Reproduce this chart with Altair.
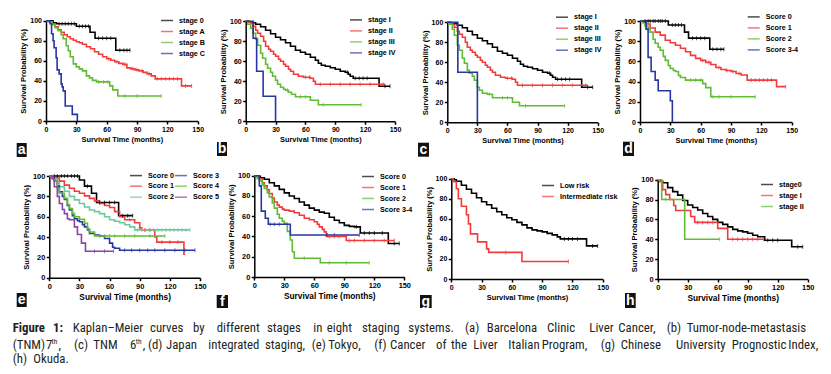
import altair as alt
import pandas as pd

# ---------------- colours ----------------
BLACK, RED, GREEN, BLUE, TEAL, PURPLE = "#000000", "#f23b3b", "#62bb34", "#26389f", "#6cc9a0", "#8b43a8"

# ---------------- (a) BCLC ----------------
A_NAMES = ["stage 0", "stage A", "stage B", "stage C"]
A0_T = [0, 7, 10.5, 30, 43.5, 48.5, 69, 83]
A0_S = [100, 98, 97, 94.5, 88.5, 82.5, 70.5, 70.5]
A0_C = [13, 16, 19, 22, 25, 28, 33, 36, 39, 42, 52, 56, 60, 64, 73, 77, 80, 83]
AA_T = [0, 3, 6, 9, 12, 15, 18, 21, 24, 27, 30, 33, 36, 40, 44, 48, 52, 56, 60, 64, 68, 72, 76, 80, 84, 88, 92, 96, 100, 104, 108, 134, 144]
AA_S = [100, 99, 97, 94, 91, 88.5, 86, 84, 82, 80.5, 79, 78, 76.5, 74, 72, 69, 66.5, 64, 62, 60.5, 59, 57.5, 56.5, 53, 52, 51, 50, 48.5, 47, 45, 42, 35, 35]
AA_C = [62, 70, 78, 86, 90, 95, 102, 110, 114, 118, 122, 126, 130, 138, 144]
AB_T = [0, 3, 6, 9, 12, 15, 17, 20, 22, 24, 27, 30, 33, 36, 40, 43, 46, 50, 63, 66, 71, 114]
AB_S = [100, 99, 96, 93, 90, 86, 82, 75, 70, 64, 57, 54, 52, 50, 45, 43, 40.5, 39, 35, 31, 25, 25]
AB_C = [52, 57, 61, 78, 90, 114]
AC_T = [0, 4, 5.5, 7, 8, 10, 11, 13, 15, 16, 17, 19, 26, 31]
AC_S = [100, 97, 87, 80, 73, 63, 51, 47, 37, 34, 30, 15, 6.6, 0]
AC_C = []

# ---------------- (b) TNM 7th ----------------
B_NAMES = ["stage I", "stage II", "stage III", "stage IV"]
B1_T = [0, 3, 6, 10, 15, 20, 25, 30, 35, 40, 45, 50, 55, 60, 65, 70, 73, 76, 80, 85, 90, 95, 100, 103, 105, 108, 134, 145]
B1_S = [100, 99.5, 98.5, 97, 94.5, 91, 87.5, 84, 81.5, 78.5, 75, 71, 69, 67, 64, 61, 58, 56, 55, 53.5, 52, 50, 49, 47, 45, 43, 35, 35]
B1_C = [102, 110, 114, 118, 122, 140, 145]
B2_T = [0, 3, 5, 7, 10, 12, 15, 18, 20, 23, 25, 28, 30, 33, 35, 38, 40, 43, 45, 48, 53, 58, 65, 68, 70, 140]
B2_S = [100, 99, 98, 95, 91, 88, 85, 80, 75, 72, 70, 67, 65, 62, 60, 57, 55, 52, 50, 47, 45, 44, 43, 40, 37, 37]
B2_C = [60, 64, 75, 85, 95, 105, 115, 125, 138]
B3_T = [0, 2, 5, 7, 10, 12, 15, 17, 20, 22, 25, 27, 30, 32, 35, 38, 40, 43, 46, 50, 65, 73, 116]
B3_S = [100, 97, 93, 88, 82, 76, 68, 63, 57, 53, 49, 45, 41, 37, 34, 32, 31, 29, 27, 24.5, 21, 16.5, 16.5]
B3_C = [42, 55, 60, 78, 116]
B4_T = [0, 7.5, 11, 17.5, 30]
B4_S = [100, 83, 50, 25, 0]
B4_C = []

# ---------------- (c) TNM 6th ----------------
C_NAMES = ["stage I", "stage II", "stage III", "stage IV"]
C1_T, C1_S, C1_C = B1_T, B1_S, B1_C
C2_T, C2_S, C2_C = B2_T, B2_S, B2_C
C3_T = [0, 2, 5, 7, 10, 12, 15, 17, 20, 22, 25, 27, 30, 32, 35, 40, 45, 65, 72, 117]
C3_S = [100, 98, 93, 87, 77, 72, 64, 59, 52, 49, 46, 42, 35, 32, 29, 28, 24.5, 20, 16.5, 16.5]
C3_C = [42, 55, 60, 78, 117]
C4_T = [0, 10.5, 30]
C4_S = [100, 50, 0]
C4_C = []

# ---------------- (d) JIS ----------------
D_NAMES = ["Score 0", "Score 1", "Score 2", "Score 3-4"]
D0_T = [0, 28, 44, 48, 69, 83]
D0_S = [100, 96, 89, 83, 72, 72]
D0_C = [5, 8, 10, 13, 15, 18, 20, 22, 25, 32, 35, 38, 41, 52, 56, 60, 64, 72, 76, 80, 83]
D1_T = [0, 3, 6, 10, 15, 20, 25, 30, 35, 40, 45, 50, 55, 60, 65, 70, 75, 80, 85, 90, 95, 100, 106, 135, 144]
D1_S = [100, 99, 97, 93, 89, 86, 81, 78.5, 76, 73, 69.5, 66, 63, 61, 59, 57, 54, 52, 51, 50, 48, 46.5, 41.5, 35, 35]
D1_C = [62, 68, 78, 86, 92, 98, 110, 114, 118, 122, 126, 130, 144]
D2_T = [0, 3, 5, 8, 10, 13, 15, 18, 20, 23, 25, 28, 30, 33, 35, 38, 40, 45, 62, 65, 70, 114]
D2_S = [100, 98, 95, 92, 89, 82, 78, 74, 71, 65, 61, 56, 53, 51, 50, 46, 44, 41.5, 38, 34, 25, 25]
D2_C = [50, 55, 60, 72, 78, 90, 114]
D3_T = [0, 6, 8, 11, 15, 18, 30, 32]
D3_S = [100, 92, 64, 50, 41.5, 31, 21, 0]
D3_C = []

# ---------------- (e) Tokyo ----------------
E_NAMES = ["Score 0", "Score 1", "Score 2", "Score 3", "Score 4", "Score 5"]
E0_T = [0, 30, 35, 42, 47, 69, 83]
E0_S = [100, 96, 90, 83, 74, 61, 61]
E0_C = [5, 8, 12, 15, 18, 22, 25, 28, 38, 50, 55, 60, 65, 73, 78, 83]
E1_T = [0, 5, 10, 15, 20, 25, 30, 35, 40, 45, 50, 55, 60, 65, 70, 75, 85, 90, 92, 105, 107, 134, 135]
E1_S = [100, 98, 95, 91, 88, 85, 83, 80.5, 78, 75.5, 73, 71, 69, 65, 60, 57, 54, 49, 47, 40, 35, 23, 23]
E1_C = [80, 95, 100, 112, 120, 128]
E2_T = [0, 3, 5, 8, 10, 15, 20, 25, 30, 35, 40, 45, 50, 55, 60, 65, 70, 75, 80, 85, 140]
E2_S = [100, 98, 97, 93, 89.5, 85, 80, 76.5, 73, 69.5, 66.5, 65, 63, 60, 57, 55.5, 54, 52, 50, 47, 47]
E2_C = [88, 92, 96, 100, 104, 108, 112, 116, 120, 124, 128, 132, 136, 140]
E3_T = [0, 3, 5, 8, 10, 13, 15, 18, 20, 23, 25, 28, 30, 33, 35, 38, 40, 45, 50, 55, 60, 63, 65, 70, 145]
E3_S = [100, 98, 95, 90, 84.5, 80, 77, 71, 66.5, 61, 58, 56, 55, 52, 50, 47, 43.5, 42, 41, 38.5, 34, 30, 29, 27, 27]
E3_C = [75, 82, 90, 98, 105, 115, 125, 135, 145]
E4_T = [0, 3, 5, 8, 10, 15, 18, 20, 23, 25, 30, 35, 38, 40, 45, 115]
E4_S = [100, 98, 95, 88, 83, 78, 72, 68, 63, 60, 57.5, 53.5, 48, 45, 41, 41]
E4_C = [50, 55, 60, 65, 75, 85, 100, 115]
E5_T = [0, 3, 5, 8, 10, 13, 15, 18, 20, 25, 28, 32, 36, 64]
E5_S = [100, 97, 89.5, 80, 73, 67, 63, 58, 57, 50, 42.5, 34, 26, 26]
E5_C = [45, 55, 64]

# ---------------- (f) CLIP ----------------
F_NAMES = ["Score 0", "Score 1", "Score 2", "Score 3-4"]
F0_T = [0, 3, 6, 10, 15, 20, 25, 30, 35, 40, 45, 50, 55, 60, 65, 70, 75, 80, 85, 90, 95, 100, 106, 134, 145]
F0_S = [100, 99.5, 98, 96.5, 93, 90, 86.5, 83, 80, 77.5, 74, 71, 68, 66, 64, 63, 59, 56, 53.5, 51, 50, 49.5, 43.5, 33, 33]
F0_C = [102, 110, 115, 120, 128, 140, 145]
F1_T = [0, 3, 5, 8, 10, 13, 15, 18, 20, 23, 25, 28, 30, 35, 40, 45, 50, 55, 60, 63, 65, 68, 70, 72, 92, 140]
F1_S = [100, 98.5, 97, 93, 90, 86, 82.5, 78, 74, 71, 69, 67, 66, 65, 63.5, 61, 58, 56.5, 54.5, 52, 49.5, 47, 44.5, 40, 36, 36]
F1_C = [75, 80, 85, 95, 100, 110, 120, 130, 140]
F2_T = [0, 3, 5, 8, 10, 13, 15, 18, 20, 23, 25, 28, 30, 33, 36, 38, 40, 66, 115]
F2_S = [100, 97, 95, 91, 87.5, 83, 79, 73, 68, 62, 58, 55, 53, 45, 36.5, 25, 18.5, 14, 14]
F2_C = [50, 75, 92, 115]
F3_T = [0, 5, 7, 11, 14, 36, 105]
F3_S = [100, 90, 65, 58, 52, 41.5, 41.5]
F3_C = [16, 20, 25, 73, 80, 105]

# ---------------- (g) CUPI ----------------
G_NAMES = ["Low risk", "Intermediate risk"]
G0_T = [0, 3, 5, 10, 15, 20, 25, 30, 35, 40, 45, 50, 55, 60, 65, 70, 75, 80, 85, 90, 95, 100, 105, 108, 134, 145]
G0_S = [100, 99, 97.5, 93.5, 89.5, 85.5, 81, 77, 74, 70.5, 67, 64, 61, 59, 56.5, 54, 51, 49, 48, 47, 45.5, 44, 42, 40, 33, 33]
G0_C = [112, 116, 120, 125, 140, 145]
G1_T = [0, 2, 5, 7, 10, 15, 17, 19, 26, 35, 37, 70, 116]
G1_S = [100, 97, 90, 80, 72.5, 64, 55, 45, 37, 30, 26.5, 17.5, 17.5]
G1_C = [54, 116]

# ---------------- (h) Okuda ----------------
H_NAMES = ["stage0", "stage I", "stage II"]
H0_T = [0, 3, 5, 10, 15, 20, 25, 30, 35, 40, 45, 50, 55, 60, 65, 70, 75, 80, 85, 90, 95, 100, 107, 134, 145]
H0_S = [100, 98.5, 97, 92, 88, 84.5, 79, 74.5, 72, 69.5, 66, 63, 60, 57, 55, 52.5, 50, 48.5, 47.5, 46, 44, 42.5, 39, 32.5, 32.5]
H0_C = [110, 115, 120, 140, 145]
H1_T = [0, 2, 5, 8, 12, 16, 18, 33, 37, 60, 70, 106]
H1_S = [100, 98, 90, 85, 80, 74, 69, 63, 57, 51, 40, 40]
H1_C = [40, 45, 50, 55, 75, 80, 85, 90, 95, 100, 106]
H2_T = [0, 4, 27, 62]
H2_S = [100, 80, 40, 40]
H2_C = [8, 62]

X_TICKS = [0, 30, 60, 90, 120, 150]
Y_TICKS = [0, 20, 40, 60, 80, 100]
X_TITLE = "Survival Time (months)"
Y_TITLE = "Survival Probability (%)"
LETTERS = ["a", "b", "c", "d", "e", "f", "g", "h"]

# caption text
CAP1_BOLD = ["Figure", "1:"]
CAP1 = ["Kaplan\u2013Meier", "curves", "by", "different", "stages", "in", "eight", "staging", "systems.",
        "(a)", "Barcelona", "Clinic", "Liver", "Cancer,", "(b)", "Tumor-node-metastasis"]
CAP2 = ["(TNM)", "7", ",", "(c)", "TNM", "6", ",", "(d)", "Japan", "integrated", "staging,", "(e)", "Tokyo,",
        "(f)", "Cancer", "of", "the", "Liver", "Italian", "Program,", "(g)", "Chinese", "University",
        "Prognostic", "Index,"]
CAP2_SUP = ["th", "th"]
CAP3 = ["(h)", "Okuda."]

# ---------------- layout (pixels, view coordinates) ----------------
W, H = 815, 358
GEOM = {  # left, right, top, bottom of each plot area
    "a": (38, 189.7, 12.7, 113), "b": (237.7, 387, 13.3, 113.3),
    "c": (439.3, 589.7, 14.3, 114.3), "d": (632, 783.7, 13, 114),
    "e": (41.3, 192, 168, 269.7), "f": (246.3, 396.3, 167.7, 269),
    "g": (443.3, 594.7, 170.7, 271), "h": (649.7, 799.7, 171.7, 271),
}
LEGPOS = {"a": (152, 5.5), "b": (341, 4.9), "c": (547, 2.2), "d": (738.7, 1.9),
          "e": (121, 160.2), "f": (353, 161.5), "g": (533, 170.5), "h": (752, 169.5)}
BOX = {"a": (8.7, 18.7, 135, 149), "b": (209, 219, 134, 148), "c": (410, 421, 134.7, 148.7),
       "d": (615, 626, 133.7, 148), "e": (8.7, 18.7, 285, 299), "f": (208.7, 220, 287, 300),
       "g": (412, 423.7, 287, 300), "h": (617, 627.7, 285, 300)}
CAP1_BOLD_X = [4.7, 45]
CAP1_X = [64.7, 142, 185, 208.7, 259, 305.3, 318.7, 354, 400.3, 457, 478.7, 539, 581.3, 610.3, 658.7, 678.7]
CAP2_X = [4.7, 38, 50.5, 66, 85.3, 122, 134.7, 140, 158, 200.3, 257, 303.7, 320.3, 366.3, 382,
          428, 443, 465.3, 500.3, 533.7, 592.7, 612.7, 668, 723.7, 780.3]
CAP2_SUP_X = [43.5, 127.7]
CAP3_X = [4.7, 25.3]
CAP_Y = [324, 341.3, 355.3]

FONT = "Liberation Sans"
CAPFONT = "Roboto Condensed, Liberation Sans Narrow, Liberation Sans"


def surv_at(ts, ss, t):
    v = ss[0]
    for ti, si in zip(ts, ss):
        if ti <= t:
            v = si
    return v


def panel(key, names, colors, series, big=False, columns=None):
    rows, cens = [], []
    for name, (ts, ss, cs) in zip(names, series):
        for ti, si in zip(ts, ss):
            rows.append({"g": name, "t": ti, "s": si})
        for c in cs:
            cens.append({"g": name, "t": c, "s": surv_at(ts, ss, c)})
    L, R, T, B = GEOM[key]
    lx, ly = LEGPOS[key]
    lab = 7.4 if big else 7.0
    xt = 8.3 if big else 7.4
    xs = alt.Scale(domain=[0, 150], range=[L, R], nice=False, zero=False)
    ys = alt.Scale(domain=[0, 100], range=[B, T], nice=False, zero=False)
    common = dict(domainColor="black", domainWidth=1.5, tickColor="black", tickWidth=1.5, tickSize=3,
                  labelColor="black", labelFont=FONT, labelFontWeight="bold", labelFontSize=lab,
                  titleFont=FONT, titleFontWeight="bold", titleColor="black", grid=False,
                  labelPadding=1.5, minExtent=0, maxExtent=200, labelOverlap=False)
    xax = alt.Axis(orient="bottom", offset=B - H, values=X_TICKS, title=X_TITLE, titleFontSize=xt,
                   titlePadding=3, labelFlush=False, **common)
    yax = alt.Axis(orient="left", offset=-L, values=Y_TICKS, title=Y_TITLE, titleFontSize=7.6,
                   titlePadding=2, **common)
    legkw = dict(orient="none", legendX=lx, legendY=ly, title=None, symbolType="stroke", symbolSize=144,
                 symbolStrokeWidth=1.5, labelFont=FONT, labelFontSize=7.2, labelFontWeight="bold",
                 labelColor="black", rowPadding=0, padding=0, labelOffset=5)
    if columns:
        legkw.update(columns=columns, columnPadding=-6)
    leg = alt.Legend(**legkw)
    col = alt.Color("g:N", scale=alt.Scale(domain=names, range=colors), legend=leg)
    lines = alt.Chart(pd.DataFrame(rows)).mark_line(interpolate="step-after", strokeWidth=1.6).encode(
        x=alt.X("t:Q", scale=xs, axis=xax), y=alt.Y("s:Q", scale=ys, axis=yax), color=col,
        order=alt.Order("t:Q"))
    layers = [lines]
    if cens:
        ticks = alt.Chart(pd.DataFrame(cens)).mark_tick(orient="vertical", size=4, thickness=1).encode(
            x=alt.X("t:Q", scale=xs, axis=xax), y=alt.Y("s:Q", scale=ys, axis=yax), color=col)
        layers.append(ticks)
    return alt.layer(*layers)


C4 = [BLACK, RED, GREEN, BLUE]
panels = [
    panel("a", A_NAMES, C4, [(A0_T, A0_S, A0_C), (AA_T, AA_S, AA_C), (AB_T, AB_S, AB_C), (AC_T, AC_S, AC_C)]),
    panel("b", B_NAMES, C4, [(B1_T, B1_S, B1_C), (B2_T, B2_S, B2_C), (B3_T, B3_S, B3_C), (B4_T, B4_S, B4_C)]),
    panel("c", C_NAMES, C4, [(C1_T, C1_S, C1_C), (C2_T, C2_S, C2_C), (C3_T, C3_S, C3_C), (C4_T, C4_S, C4_C)]),
    panel("d", D_NAMES, C4, [(D0_T, D0_S, D0_C), (D1_T, D1_S, D1_C), (D2_T, D2_S, D2_C), (D3_T, D3_S, D3_C)]),
    panel("e", E_NAMES, [BLACK, RED, TEAL, BLUE, GREEN, PURPLE],
          [(E0_T, E0_S, E0_C), (E1_T, E1_S, E1_C), (E2_T, E2_S, E2_C), (E3_T, E3_S, E3_C),
           (E4_T, E4_S, E4_C), (E5_T, E5_S, E5_C)], big=True, columns=2),
    panel("f", F_NAMES, C4, [(F0_T, F0_S, F0_C), (F1_T, F1_S, F1_C), (F2_T, F2_S, F2_C), (F3_T, F3_S, F3_C)], big=True),
    panel("g", G_NAMES, [BLACK, RED], [(G0_T, G0_S, G0_C), (G1_T, G1_S, G1_C)]),
    panel("h", H_NAMES, [BLACK, RED, GREEN], [(H0_T, H0_S, H0_C), (H1_T, H1_S, H1_C), (H2_T, H2_S, H2_C)], big=True),
]

# panel letters in black boxes
box_df = pd.DataFrame([{"k": k, "x1": BOX[k][0], "x2": BOX[k][1], "y1": BOX[k][2], "y2": BOX[k][3],
                        "cx": (BOX[k][0] + BOX[k][1]) / 2, "cy": (BOX[k][2] + BOX[k][3]) / 2}
                       for k in LETTERS])
boxes = alt.Chart(box_df).mark_rect(color="#111111").encode(
    x=alt.X("x1:Q", scale=None), x2="x2:Q", y=alt.Y("y1:Q", scale=None), y2="y2:Q")
letters = alt.Chart(box_df).mark_text(color="white", font=FONT, fontWeight="bold", fontSize=14,
                                      align="center", baseline="middle", dy=0).encode(
    x=alt.X("cx:Q", scale=None), y=alt.Y("cy:Q", scale=None), text="k:N")

# caption
reg = [{"w": w, "x": x, "y": CAP_Y[0]} for w, x in zip(CAP1, CAP1_X)]
reg += [{"w": w, "x": x, "y": CAP_Y[1]} for w, x in zip(CAP2, CAP2_X)]
reg += [{"w": w, "x": x, "y": CAP_Y[2]} for w, x in zip(CAP3, CAP3_X)]
bold = [{"w": w, "x": x, "y": CAP_Y[0]} for w, x in zip(CAP1_BOLD, CAP1_BOLD_X)]
sup = [{"w": w, "x": x, "y": CAP_Y[1] - 5} for w, x in zip(CAP2_SUP, CAP2_SUP_X)]


def cap_layer(items, size, weight):
    return alt.Chart(pd.DataFrame(items)).mark_text(
        font=CAPFONT, fontSize=size, fontWeight=weight, color="#231f20", align="left",
        baseline="alphabetic").encode(x=alt.X("x:Q", scale=None), y=alt.Y("y:Q", scale=None), text="w:N")


caption = [cap_layer(reg, 12.8, "normal"), cap_layer(bold, 12.8, "bold"), cap_layer(sup, 7.5, "normal")]

chart = alt.layer(*panels, boxes, letters, *caption).resolve_scale(
    x="independent", y="independent", color="independent"
).resolve_axis(x="independent", y="independent").resolve_legend(color="independent").properties(
    width=W, height=H, padding=0, autosize=alt.AutoSizeParams(type="none")
).configure_view(stroke=None)

chart.save("out.html", embed_options={"renderer": "svg", "actions": False})
